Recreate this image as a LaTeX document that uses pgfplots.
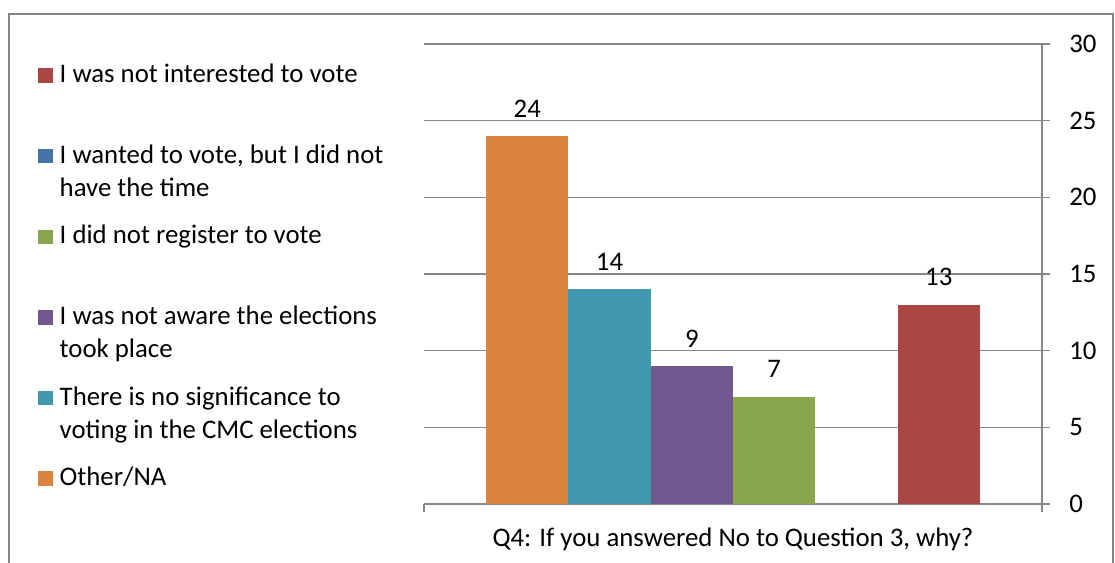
\documentclass[border=0pt]{standalone}
\usepackage{fontspec}
\setmainfont{Carlito}
\usepackage{pgfplots}
\pgfplotsset{compat=1.18}
\definecolor{cRed}{HTML}{AA4643}
\definecolor{cBlue}{HTML}{4572A7}
\definecolor{cGreen}{HTML}{89A54E}
\definecolor{cPurple}{HTML}{71588F}
\definecolor{cTeal}{HTML}{4198AF}
\definecolor{cOrange}{HTML}{DB843D}
\definecolor{gridGray}{HTML}{868686}
\begin{document}
\fontsize{13.4bp}{16.5bp}\selectfont
\begin{tikzpicture}
\useasboundingbox (0,0) rectangle (557.5bp,281.5bp);
\draw[color=gridGray, line width=0.9bp] (4.5bp,-10bp) -- (4.5bp,274.5bp) -- (556.5bp,274.5bp) -- (556.5bp,-10bp);
\begin{axis}[
  at={(212bp,29.5bp)}, anchor=south west,
  scale only axis, width=309bp, height=230bp,
  xmin=-1, xmax=1, ymin=0, ymax=30,
  ybar=0pt, bar width=41.15bp,
  axis x line*=bottom, axis y line*=right,
  xtick={-1,1}, xticklabels={},
  ytick={0,5,...,30},
  ymajorgrids,
  grid style={color=gridGray, line width=0.75bp},
  axis line style={color=gridGray, line width=0.75bp},
  tick style={color=gridGray, line width=0.75bp},
  tick align=outside, major tick length=4bp,
  /pgf/number format/assume math mode=true,
  yticklabel style={anchor=west, inner sep=0pt, xshift=9.5bp},
  xlabel={Q4: If you answered No to Question 3, why?},
  xlabel style={at={(axis description cs:0.5,0)}, anchor=base, yshift=-21bp, inner sep=0pt},
  every node near coord/.append style={anchor=base, yshift=9.35bp, inner sep=0pt, text=black},
  legend style={at={(axis description cs:-0.6241,0.9593)}, anchor=north west, draw=none, fill=none,
    inner sep=0pt, outer sep=0pt, row sep=0pt, column sep=3.5bp,
    cells={anchor=base west},
    nodes={inner sep=0pt, text height=10bp, text depth=30.3bp}},
  legend image code/.code={\fill[#1] (0bp,0bp) rectangle (7.2bp,7.2bp);},
  reverse legend,
]
\addplot[fill=cOrange, draw=none, nodes near coords] coordinates {(0,24)};
\addlegendentry{Other/NA}
\addplot[fill=cTeal, draw=none, nodes near coords] coordinates {(0,14)};
\addlegendentry{\parbox[t]{200bp}{There is no significance to\\voting in the CMC elections}}
\addplot[fill=cPurple, draw=none, nodes near coords] coordinates {(0,9)};
\addlegendentry{\parbox[t]{200bp}{I was not aware the elections\\took place}}
\addplot[fill=cGreen, draw=none, nodes near coords] coordinates {(0,7)};
\addlegendentry{I did not register to vote}
\addplot[fill=cBlue, draw=none] coordinates {(0,0)};
\addlegendentry{\parbox[t]{200bp}{I wanted to vote, but I did not\\have the time}}
\addplot[fill=cRed, draw=none, nodes near coords] coordinates {(0,13)};
\addlegendentry{I was not interested to vote}
\end{axis}
\end{tikzpicture}
\end{document}
